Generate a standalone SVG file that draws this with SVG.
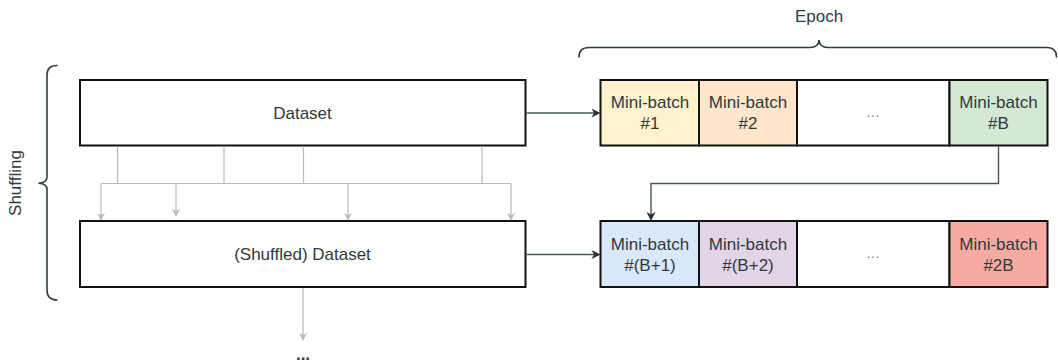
<svg xmlns="http://www.w3.org/2000/svg" width="1058" height="363" viewBox="0 0 1058 363">
  <style>
    .box { stroke: #111; stroke-width: 2; }
    .lbl { font-family: "Liberation Sans", Arial, sans-serif; font-size: 17px; fill: #2f3a3d; text-anchor: middle; }
    .dots { font-family: "Liberation Sans", Arial, sans-serif; font-size: 14px; fill: #777; text-anchor: middle; }
    .brace { fill: none; stroke: #2f3e42; stroke-width: 1.6; stroke-linecap: round; }
    .split { fill: none; stroke: #b5bcbf; stroke-width: 1.2; }
    .flow { fill: none; stroke: #46575b; stroke-width: 1.4; }
  </style>
  <defs>
    <marker id="arrowLight" viewBox="0 0 10 10" refX="9" refY="5" markerWidth="8" markerHeight="8" markerUnits="userSpaceOnUse" orient="auto">
      <path d="M0,0 L10,5 L0,10 L3,5 z" fill="#b5bcbf"/>
    </marker>
    <marker id="arrowDark" viewBox="0 0 10 10" refX="9" refY="5" markerWidth="9" markerHeight="9" markerUnits="userSpaceOnUse" orient="auto">
      <path d="M0,0 L10,5 L0,10 L3,5 z" fill="#263236"/>
    </marker>
  </defs>

  <rect width="1058" height="363" fill="#ffffff"/>

  <!-- braces and their captions -->
  <g id="shuffling-brace">
    <path class="brace" d="M57,65.5 Q47,65.5 47,75 L47,177 Q47,183 38.5,183.3 Q47,183.6 47,189.5 L47,290 Q47,300 57,300"/>
    <text class="lbl" transform="translate(20.5,183) rotate(-90)">Shuffling</text>
  </g>
  <g id="epoch-brace">
    <path class="brace" d="M579,57 Q579,47.5 589,47.5 L810,47.5 Q818.5,47.5 819,40 Q819.5,47.5 828,47.5 L1047,47.5 Q1056.5,47.5 1056.5,57"/>
    <text class="lbl" x="819" y="21.7">Epoch</text>
  </g>

  <!-- datasets -->
  <g id="dataset">
    <rect class="box" x="80" y="80" width="445.5" height="65.5" fill="#ffffff"/>
    <text class="lbl" x="302.5" y="118.5">Dataset</text>
  </g>
  <g id="shuffled-dataset">
    <rect class="box" x="80" y="221" width="445.5" height="66" fill="#ffffff"/>
    <text class="lbl" x="302.5" y="260">(Shuffled) Dataset</text>
  </g>

  <!-- first epoch mini-batches -->
  <g id="mb-1">
    <rect class="box" x="600.5" y="80" width="98.5" height="65.5" fill="#fff2cc"/>
    <text class="lbl" x="650" y="108.3">Mini-batch</text>
    <text class="lbl" x="650" y="129.3">#1</text>
  </g>
  <g id="mb-2">
    <rect class="box" x="699" y="80" width="98" height="65.5" fill="#ffe6cc"/>
    <text class="lbl" x="748" y="108.3">Mini-batch</text>
    <text class="lbl" x="748" y="129.3">#2</text>
  </g>
  <g id="mb-gap-1">
    <rect class="box" x="797" y="80" width="152.5" height="65.5" fill="#ffffff"/>
    <text class="dots" x="873" y="117">…</text>
  </g>
  <g id="mb-B">
    <rect class="box" x="949.5" y="80" width="98" height="65.5" fill="#d5e8d4"/>
    <text class="lbl" x="998.5" y="108.3">Mini-batch</text>
    <text class="lbl" x="998.5" y="129.3">#B</text>
  </g>

  <!-- second epoch mini-batches -->
  <g id="mb-B1">
    <rect class="box" x="600.5" y="221" width="98.5" height="66" fill="#dae8fc"/>
    <text class="lbl" x="650" y="249.5">Mini-batch</text>
    <text class="lbl" x="650" y="270.5">#(B+1)</text>
  </g>
  <g id="mb-B2">
    <rect class="box" x="699" y="221" width="98" height="66" fill="#e1d5e7"/>
    <text class="lbl" x="748" y="249.5">Mini-batch</text>
    <text class="lbl" x="748" y="270.5">#(B+2)</text>
  </g>
  <g id="mb-gap-2">
    <rect class="box" x="797" y="221" width="152.5" height="66" fill="#ffffff"/>
    <text class="dots" x="873" y="258">…</text>
  </g>
  <g id="mb-2B">
    <rect class="box" x="949.5" y="221" width="98" height="66" fill="#f6aba2"/>
    <text class="lbl" x="998.5" y="249.5">Mini-batch</text>
    <text class="lbl" x="998.5" y="270.5">#2B</text>
  </g>

  <g id="next-round">
    <text x="303" y="359.5" font-family="'Liberation Sans', Arial, sans-serif" font-size="17" font-weight="bold" fill="#2f3a3d" text-anchor="middle">...</text>
  </g>

  <!-- connectors -->
  <g id="connectors">
    <!-- shuffle: rows of the dataset are scattered into the new order -->
    <path class="split" d="M117.5,146.5 V183.5 M224,146.5 V183.5 M303.5,146.5 V183.5 M482,146.5 V183.5 M101,183.5 H511"/>
    <path class="split" d="M101,183.5 V220" marker-end="url(#arrowLight)"/>
    <path class="split" d="M176,183.5 V216" marker-end="url(#arrowLight)"/>
    <path class="split" d="M348,183.5 V220" marker-end="url(#arrowLight)"/>
    <path class="split" d="M511,183.5 V220" marker-end="url(#arrowLight)"/>
    <path class="split" d="M303,288 V340" marker-end="url(#arrowLight)"/>

    <!-- dataset to mini-batches -->
    <path class="flow" d="M526.5,113 H599.5" marker-end="url(#arrowDark)"/>
    <path class="flow" d="M526.5,254.5 H599.5" marker-end="url(#arrowDark)"/>
    <!-- last batch of one epoch leads to first batch of the next -->
    <path class="flow" d="M998.5,146.5 V183.5 H651 V220" marker-end="url(#arrowDark)"/>
  </g>
</svg>
